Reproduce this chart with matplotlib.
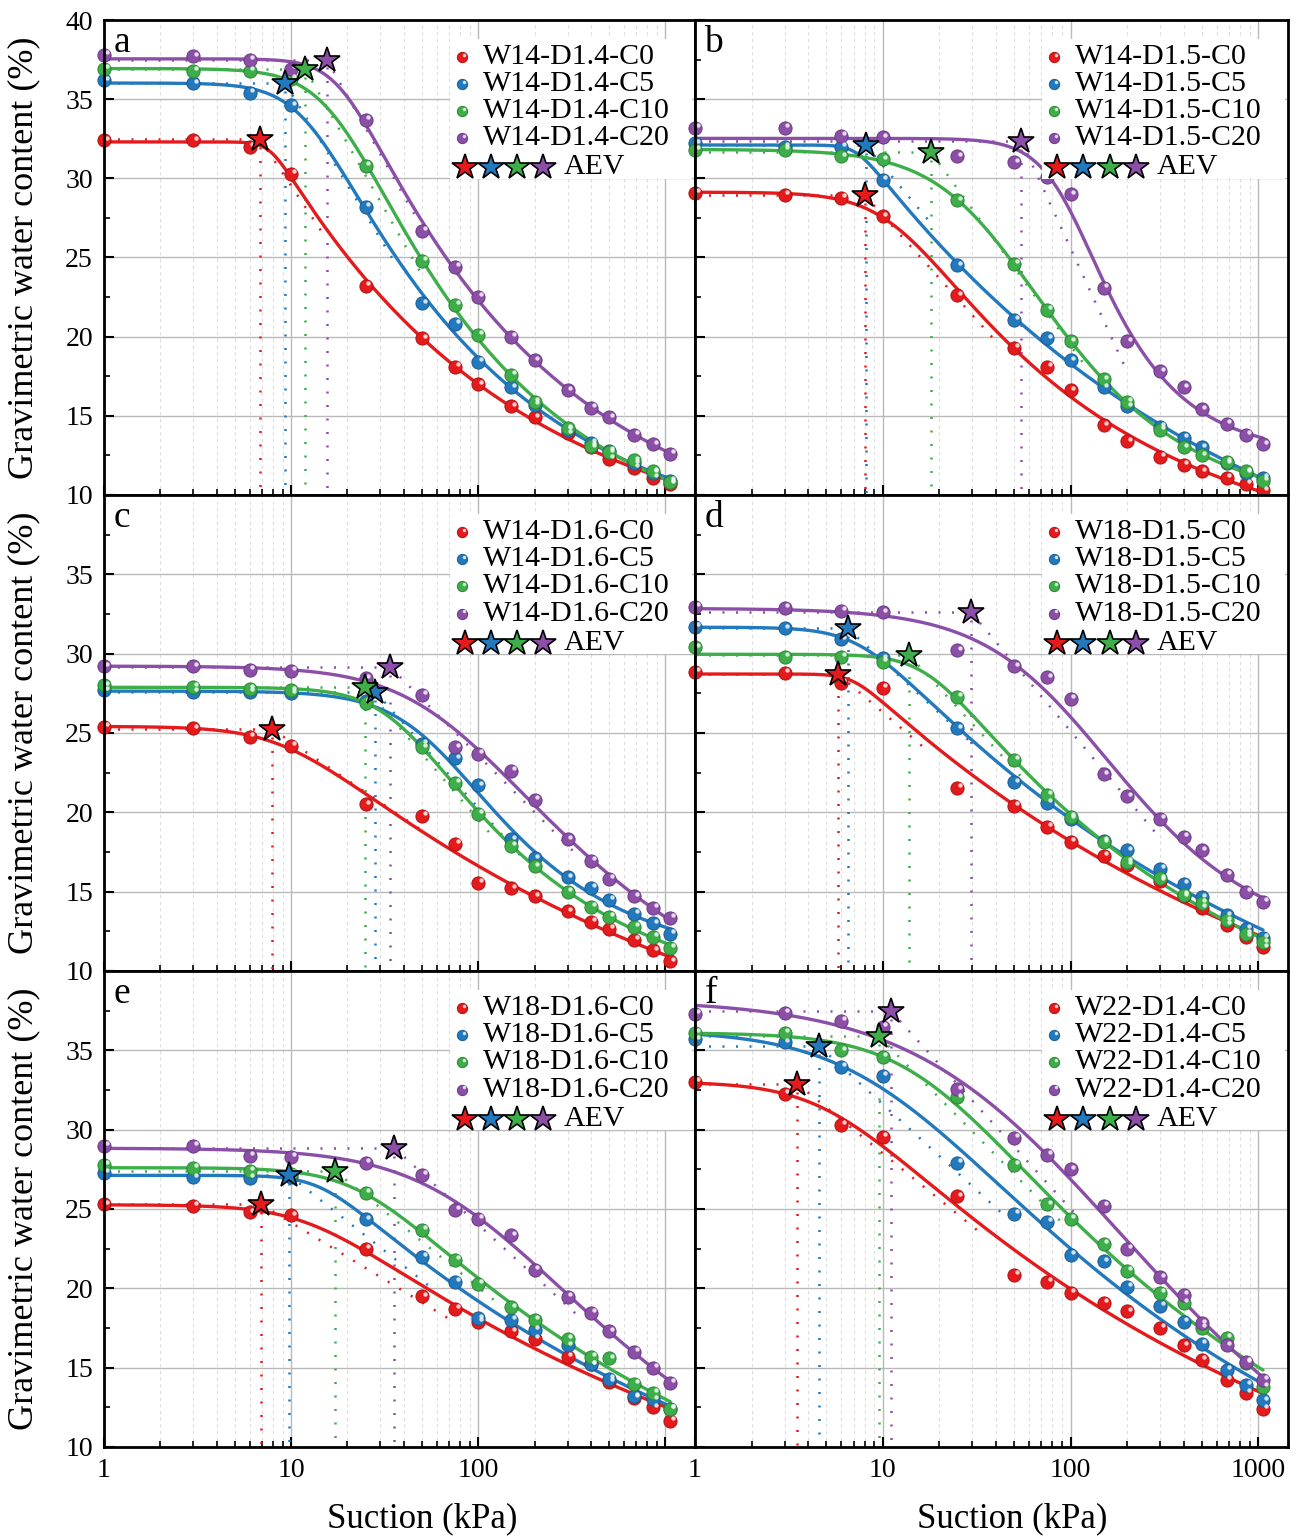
import numpy as np
import matplotlib
matplotlib.use("Agg")
import matplotlib.pyplot as plt
from matplotlib.transforms import offset_copy
from matplotlib.patches import Rectangle
from matplotlib.ticker import FixedLocator, FixedFormatter, NullFormatter
from matplotlib.colors import to_rgb

plt.rcParams['font.family'] = ['Liberation Serif', 'DejaVu Serif']

# ---------------- data ----------------
suction = [1, 3, 6, 10, 25, 50, 75, 100, 150, 200, 300, 400, 500, 680, 860, 1060]
contents = ["C0", "C5", "C10", "C20"]
colors = ["#E41A1C", "#2379BD", "#3DAE49", "#8B4FA8"]

a_name = "W14-D1.4"
a_C0 = [32.4, 32.4, 32.0, 30.3, 23.2, 19.9, 18.1, 17.0, 15.6, 14.9, 13.9, 13.0, 12.3, 11.7, 11.1, 10.7]
a_C5 = [36.2, 36.0, 35.4, 34.6, 28.2, 22.1, 20.8, 18.4, 16.8, 15.7, 14.1, 13.3, 12.8, 12.0, 11.4, 10.9]
a_C10 = [36.9, 36.8, 36.8, 36.3, 30.8, 24.8, 22.0, 20.1, 17.6, 15.9, 14.2, 13.1, 12.7, 12.2, 11.5, 10.8]
a_C20 = [37.8, 37.7, 37.5, 36.9, 33.7, 26.7, 24.4, 22.5, 20.0, 18.5, 16.6, 15.5, 14.9, 13.8, 13.2, 12.6]
a_aev_x = [6.8, 9.3, 11.9, 15.5]
a_aev_y = [32.5, 36.0, 36.9, 37.5]

b_name = "W14-D1.5"
b_C0 = [29.1, 28.95, 28.75, 27.6, 22.6, 19.3, 18.1, 16.6, 14.4, 13.4, 12.4, 11.9, 11.5, 11.1, 10.7, 10.3]
b_C5 = [32.2, 32.0, 32.0, 29.9, 24.5, 21.05, 19.9, 18.5, 16.8, 15.6, 14.3, 13.6, 13.0, 12.0, 11.4, 11.1]
b_C10 = [31.8, 31.8, 31.4, 31.2, 28.6, 24.6, 21.7, 19.7, 17.3, 15.9, 14.1, 13.0, 12.5, 12.1, 11.5, 10.9]
b_C20 = [33.2, 33.2, 32.7, 32.6, 31.4, 31.0, 30.1, 29.0, 23.1, 19.7, 17.8, 16.8, 15.4, 14.5, 13.8, 13.2]
b_aev_x = [8.0, 8.1, 18.1, 54.8]
b_aev_y = [28.95, 32.1, 31.65, 32.35]

c_name = "W14-D1.6"
c_C0 = [25.4, 25.3, 24.75, 24.2, 20.5, 19.8, 18.0, 15.55, 15.2, 14.7, 13.75, 13.1, 12.65, 11.95, 11.3, 10.6]
c_C5 = [27.7, 27.6, 27.6, 27.5, 27.0, 24.3, 23.4, 21.7, 18.3, 17.1, 15.9, 15.25, 14.5, 13.6, 13.0, 12.35]
c_C10 = [28.0, 27.9, 27.8, 27.7, 26.9, 24.1, 21.85, 19.9, 17.9, 16.6, 15.0, 14.05, 13.4, 12.8, 12.15, 11.45]
c_C20 = [29.2, 29.2, 29.0, 28.9, 28.45, 27.4, 24.1, 23.7, 22.6, 20.8, 18.3, 16.95, 15.8, 14.7, 14.0, 13.35]
c_aev_x = [7.9, 28.2, 24.7, 33.9]
c_aev_y = [25.25, 27.6, 27.9, 29.15]

d_name = "W18-D1.5"
d_C0 = [28.85, 28.8, 28.15, 27.85, 21.55, 20.4, 19.1, 18.15, 17.25, 16.7, 15.7, 14.7, 14.0, 12.9, 12.15, 11.5]
d_C5 = [31.7, 31.6, 30.9, 29.7, 25.3, 21.9, 20.6, 19.6, 18.2, 17.6, 16.45, 15.5, 14.65, 13.5, 12.65, 12.1]
d_C10 = [30.4, 29.8, 29.8, 29.5, 27.3, 23.3, 21.1, 19.7, 18.1, 16.9, 15.85, 14.8, 14.3, 13.2, 12.35, 11.8]
d_C20 = [32.95, 32.9, 32.7, 32.6, 30.2, 29.2, 28.5, 27.15, 22.4, 21.0, 19.6, 18.45, 17.6, 16.05, 15.0, 14.35]
d_aev_x = [5.8, 6.5, 13.8, 29.6]
d_aev_y = [28.7, 31.6, 29.9, 32.6]

e_name = "W18-D1.6"
e_C0 = [25.3, 25.2, 24.8, 24.6, 22.5, 19.5, 18.7, 17.9, 17.3, 16.8, 15.7, 15.2, 14.1, 13.1, 12.5, 11.65]
e_C5 = [27.3, 27.0, 26.95, 27.0, 24.35, 22.0, 20.4, 18.1, 18.0, 17.4, 16.4, 15.2, 14.3, 13.2, 13.0, 12.4]
e_C10 = [27.8, 27.6, 27.4, 27.2, 26.0, 23.7, 21.8, 20.3, 18.8, 18.0, 16.8, 15.7, 15.6, 14.0, 13.4, 12.4]
e_C20 = [29.0, 29.0, 28.35, 28.3, 27.9, 27.15, 24.95, 24.4, 23.35, 21.15, 19.45, 18.45, 17.3, 16.0, 15.0, 14.05]
e_aev_x = [6.9, 9.7, 17.1, 35.6]
e_aev_y = [25.3, 27.15, 27.4, 28.85]

f_name = "W22-D1.4"
f_C0 = [33.0, 32.25, 30.3, 29.55, 25.8, 20.85, 20.4, 19.7, 19.1, 18.55, 17.5, 16.4, 15.5, 14.25, 13.4, 12.4]
f_C5 = [35.7, 35.5, 33.95, 33.4, 27.9, 24.7, 24.2, 22.1, 21.7, 20.1, 18.9, 17.9, 16.5, 14.85, 13.9, 12.95]
f_C10 = [36.1, 36.1, 35.0, 34.6, 32.05, 27.8, 25.3, 24.4, 22.8, 21.1, 19.7, 19.1, 17.5, 16.9, 15.3, 13.8]
f_C20 = [37.3, 37.35, 36.85, 36.5, 32.55, 29.5, 28.4, 27.5, 25.2, 22.5, 20.7, 19.6, 17.8, 16.4, 15.35, 14.25]
f_aev_x = [3.5, 4.6, 9.5, 11.0]
f_aev_y = [32.9, 35.25, 35.9, 37.5]

panel_letters = ["a", "b", "c", "d", "e", "f"]
y_ticks = [10, 15, 20, 25, 30, 35, 40]
x_ticks = [1, 10, 100, 1000]

panels = [
    (a_name, [a_C0, a_C5, a_C10, a_C20], a_aev_x, a_aev_y),
    (b_name, [b_C0, b_C5, b_C10, b_C20], b_aev_x, b_aev_y),
    (c_name, [c_C0, c_C5, c_C10, c_C20], c_aev_x, c_aev_y),
    (d_name, [d_C0, d_C5, d_C10, d_C20], d_aev_x, d_aev_y),
    (e_name, [e_C0, e_C5, e_C10, e_C20], e_aev_x, e_aev_y),
    (f_name, [f_C0, f_C5, f_C10, f_C20], f_aev_x, f_aev_y),
]


# ---------------- van Genuchten fit ----------------
def vg(p, x):
    ts, tr, la, ln_, lm = p
    with np.errstate(over="ignore", invalid="ignore"):
        return tr + (ts - tr) / (1.0 + (10.0 ** la * x) ** np.exp(ln_)) ** np.exp(lm)


def nelder_mead(f, x0, step, iters=3000):
    n = len(x0)
    pts = [np.array(x0, float)]
    for i in range(n):
        p = np.array(x0, float)
        p[i] += step[i]
        pts.append(p)
    vals = [f(p) for p in pts]
    for _ in range(iters):
        order = np.argsort(vals)
        pts = [pts[i] for i in order]
        vals = [vals[i] for i in order]
        c = np.mean(pts[:-1], axis=0)
        xr = c + (c - pts[-1])
        fr = f(xr)
        if fr < vals[0]:
            xe = c + 2.0 * (c - pts[-1])
            fe = f(xe)
            if fe < fr:
                pts[-1], vals[-1] = xe, fe
            else:
                pts[-1], vals[-1] = xr, fr
        elif fr < vals[-2]:
            pts[-1], vals[-1] = xr, fr
        else:
            xc = c + 0.5 * (pts[-1] - c)
            fc = f(xc)
            if fc < vals[-1]:
                pts[-1], vals[-1] = xc, fc
            else:
                for i in range(1, n + 1):
                    pts[i] = pts[0] + 0.5 * (pts[i] - pts[0])
                    vals[i] = f(pts[i])
    return pts[int(np.argmin(vals))]


def fit_curve(x, y, aev):
    x = np.asarray(x, float)
    y = np.asarray(y, float)

    def cost(p):
        ts, tr = p[0], p[1]
        pen = 0.0
        if tr < 0:
            pen += 1e3 * tr * tr
        if tr > ts - 1:
            pen += 1e3 * (tr - ts + 1) ** 2
        if abs(p[3]) > 3 or abs(p[4]) > 4:
            pen += 1e3
        r = vg(p, x) - y
        v = float(np.sum(r * r)) + pen
        return v if np.isfinite(v) else 1e9

    p0 = [y[0], 0.5 * y.min(), -np.log10(aev * 2.0), np.log(2.0), np.log(0.4)]
    best = nelder_mead(cost, p0, [0.5, 1.0, 0.3, 0.3, 0.3])
    best = nelder_mead(cost, best, [0.2, 0.5, 0.1, 0.1, 0.1])
    return best


# ---------------- drawing helpers ----------------
W, H = 1297, 1539
fig = plt.figure(figsize=(W / 100, H / 100), dpi=100)
cols = [(104, 695), (695, 1288)]
rows = [(20, 495), (495, 971), (971, 1447)]


def darker(c, f=0.75):
    r, g, b = to_rgb(c)
    return (r * f, g * f, b * f)


def balls(ax, x, y, color, s=90, transform=None, z=5):
    tr = transform if transform is not None else ax.transData
    ax.scatter(x, y, s=s, color=color, edgecolors=[darker(color)], linewidths=0.7,
               transform=tr, zorder=z, clip_on=False)
    d = np.sqrt(s)
    hl = offset_copy(tr, fig=fig, x=d * 0.2, y=d * 0.2, units="points")
    ax.scatter(x, y, s=s * 0.11, color="white", alpha=0.8, linewidths=0,
               transform=hl, zorder=z + 0.1, clip_on=False)


DOT = (0, (0.8, 4.6))

for idx, (name, series, aev_x, aev_y) in enumerate(panels):
    r, c = divmod(idx, 2)
    x0, x1 = cols[c]
    y0, y1 = rows[r]
    ax = fig.add_axes([x0 / W, 1 - y1 / H, (x1 - x0) / W, (y1 - y0) / H])
    ax.set_xscale("log")
    ax.set_xlim(1, 1440)
    ax.set_ylim(10, 40)
    ax.set_axisbelow(True)

    ax.xaxis.set_major_locator(FixedLocator(x_ticks))
    minors = [k * 10 ** dd for dd in range(4) for k in range(2, 10) if k * 10 ** dd < 1440]
    ax.xaxis.set_minor_locator(FixedLocator(minors))
    ax.xaxis.set_minor_formatter(NullFormatter())
    ax.yaxis.set_major_locator(FixedLocator(y_ticks))
    ax.yaxis.set_minor_locator(FixedLocator([v + 2.5 for v in y_ticks[:-1]]))

    if r == 2:
        xl = ["1", "10", "100", "1000"] if c == 1 else ["1", "10", "100", ""]
    else:
        xl = ["", "", "", ""]
    ax.xaxis.set_major_formatter(FixedFormatter(xl))
    if c == 0:
        yl = [str(v) for v in y_ticks]
        if r > 0:
            yl[-1] = ""
    else:
        yl = [""] * len(y_ticks)
    ax.yaxis.set_major_formatter(FixedFormatter(yl))

    ax.grid(which="major", axis="both", color="#b9b9b9", lw=1.0)
    ax.grid(which="minor", axis="x", color="#dedede", lw=0.8, ls=(0, (3, 3)))
    ax.tick_params(which="both", direction="in", top=False, right=False,
                   labelsize=20, pad=8)
    ax.tick_params(which="major", length=7, width=1.5)
    ax.tick_params(which="minor", length=4.5, width=1.2)
    for sp in ax.spines.values():
        sp.set_linewidth(2.0)
        sp.set_zorder(10)

    for k, (yv, col) in enumerate(zip(series, colors)):
        p = fit_curve(suction, yv, aev_x[k])
        lx = np.linspace(0.0, np.log10(suction[-1]), 700)
        yy = vg(p, 10 ** lx)
        ax.plot(10 ** lx, yy, color=col, lw=2.4, zorder=4, solid_capstyle="round")

        # AEV construction: plateau line, tangent through the inflection, drop line
        dy = np.gradient(yy, lx)
        i = int(np.argmin(dy))
        slope, lxi = dy[i], lx[i]
        lxs, ys = np.log10(aev_x[k]), aev_y[k]
        lxe = lxs + float(np.clip(1.5 * (lxi - lxs), 0.35, 1.0))
        ye = ys + slope * (lxe - lxs)
        if ye < 10.3:
            lxe = lxs + (10.3 - ys) / slope
            ye = 10.3
        ax.plot([1, aev_x[k]], [ys, ys], color=col, lw=1.8, ls=DOT, zorder=3)
        ax.plot([aev_x[k], 10 ** lxe], [ys, ye], color=col, lw=1.8, ls=DOT, zorder=3)
        ax.plot([aev_x[k], aev_x[k]], [ys - 0.5, 10], color=col, lw=1.8, ls=DOT, zorder=3)

        balls(ax, suction, yv, col)
        ax.plot([aev_x[k]], [ys], marker="*", ms=19, mfc=col, mec="black", mew=1.2,
                ls="none", zorder=7, clip_on=False)

    # legend block
    ax.add_patch(Rectangle((0.585, 0.665), 0.41, 0.295, transform=ax.transAxes,
                           facecolor="white", edgecolor="none", zorder=8))
    rows_y = [0.922, 0.866, 0.808, 0.751, 0.690]
    for k, col in enumerate(colors):
        balls(ax, [0.606], [rows_y[k]], col, s=55, transform=ax.transAxes, z=9)
        ax.text(0.641, rows_y[k], f"{name}-{contents[k]}", transform=ax.transAxes,
                fontsize=21.5, va="center", ha="left", zorder=9)
    for k, sx in enumerate([0.611, 0.654, 0.699, 0.743]):
        ax.plot([sx], [rows_y[4]], marker="*", ms=19, mfc=colors[k], mec="black",
                mew=1.2, ls="none", transform=ax.transAxes, zorder=9, clip_on=False)
    ax.text(0.778, rows_y[4], "AEV", transform=ax.transAxes, fontsize=21.5,
            va="center", ha="left", zorder=9)

    ax.text(0.016, 0.988, panel_letters[idx], transform=ax.transAxes, fontsize=27,
            va="top", ha="left", zorder=9)

for (y0, y1) in rows:
    fig.text(24 / W, 1 - (y0 + y1) / 2 / H, "Gravimetric water content (%)",
             rotation=90, va="center", ha="center", fontsize=26)
for xc in (422, 1012):
    fig.text(xc / W, 1 - 1519 / H, "Suction (kPa)", va="center", ha="center", fontsize=25)

fig.savefig("out.png", dpi=100)
